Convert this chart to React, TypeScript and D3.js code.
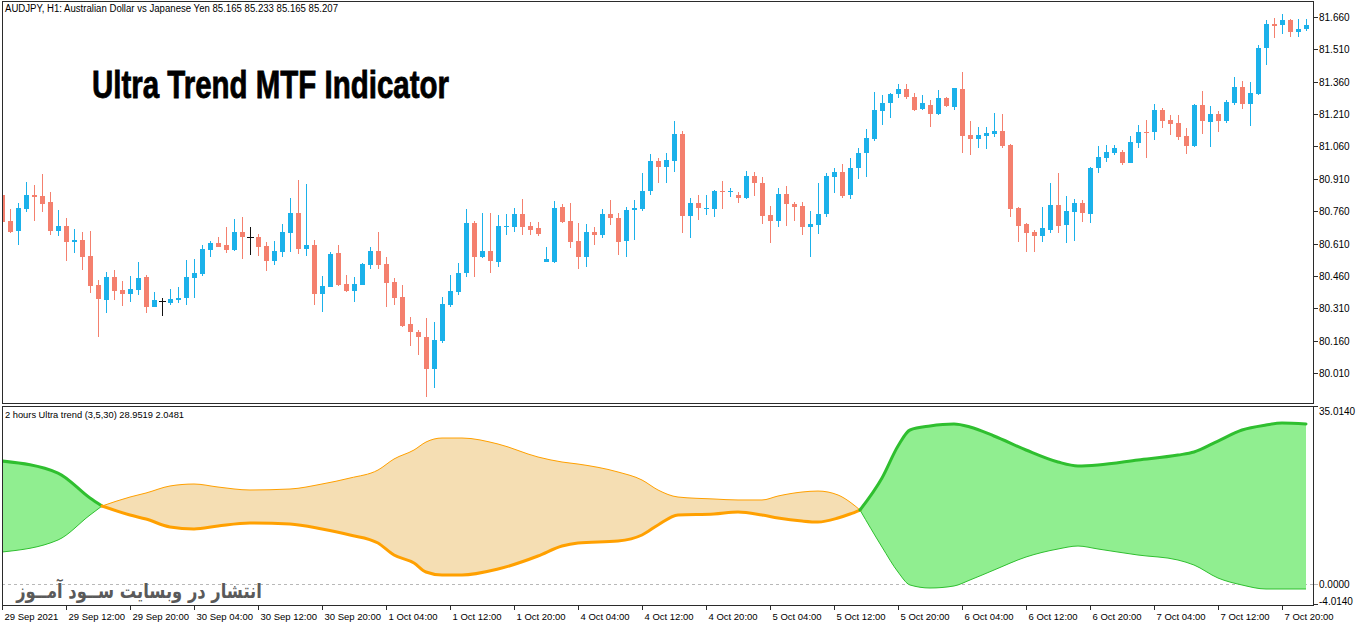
import React from "react";
import * as d3 from "d3";

// ---------- DATA ----------
const opens = [
  80.834, 80.714, 80.668, 80.769, 80.834, 80.830, 80.802, 80.668, 80.691, 80.617,
  80.626, 80.552, 80.418, 80.348, 80.455, 80.394, 80.376, 80.394, 80.455, 80.316,
  80.343, 80.334, 80.348, 80.357, 80.450, 80.468, 80.579, 80.612, 80.603, 80.579,
  80.663, 80.640, 80.640, 80.598, 80.529, 80.570, 80.658, 80.751, 80.584, 80.603,
  80.376, 80.408, 80.566, 80.422, 80.390, 80.418, 80.510, 80.575, 80.515, 80.431,
  80.362, 80.237, 80.200, 80.177, 80.029, 80.158, 80.325, 80.385, 80.473, 80.704,
  80.547, 80.575, 80.524, 80.686, 80.686, 80.746, 80.691, 80.681, 80.524, 80.524,
  80.779, 80.714, 80.621, 80.547, 80.663, 80.649, 80.746, 80.728, 80.621, 80.765,
  80.769, 80.853, 80.992, 80.964, 80.992, 81.117, 80.737, 80.797, 80.769, 80.769,
  80.853, 80.848, 80.834, 80.820, 80.922, 80.890, 80.742, 80.714, 80.839, 80.793,
  80.783, 80.686, 80.695, 80.746, 80.918, 80.941, 80.834, 80.959, 81.029, 81.093,
  81.223, 81.260, 81.302, 81.325, 81.288, 81.232, 81.251, 81.209, 81.283, 81.242,
  81.325, 81.112, 81.093, 81.107, 81.117, 81.131, 81.066, 80.774, 80.700, 80.663,
  80.644, 80.672, 80.788, 80.695, 80.756, 80.797, 80.746, 80.959, 81.006, 81.029,
  81.033, 80.982, 81.075, 81.126, 81.126, 81.228, 81.181, 81.168, 81.107, 81.061,
  81.251, 81.172, 81.209, 81.177, 81.260, 81.334, 81.256, 81.302, 81.515, 81.626,
  81.621, 81.644, 81.589, 81.603,
];
const highs = [
  80.843, 80.769, 80.797, 80.894, 80.881, 80.931, 80.848, 80.765, 80.728, 80.677,
  80.663, 80.668, 80.441, 80.478, 80.487, 80.436, 80.459, 80.524, 80.464, 80.385,
  80.357, 80.399, 80.408, 80.533, 80.538, 80.603, 80.621, 80.640, 80.686, 80.723,
  80.732, 80.686, 80.654, 80.617, 80.621, 80.700, 80.820, 80.904, 80.885, 80.626,
  80.459, 80.570, 80.603, 80.464, 80.455, 80.519, 80.593, 80.663, 80.547, 80.450,
  80.418, 80.269, 80.209, 80.265, 80.246, 80.362, 80.464, 80.519, 80.769, 80.714,
  80.751, 80.751, 80.742, 80.746, 80.774, 80.816, 80.709, 80.709, 80.593, 80.806,
  80.793, 80.797, 80.705, 80.700, 80.686, 80.769, 80.811, 80.751, 80.779, 80.811,
  80.936, 81.024, 81.006, 81.029, 81.177, 81.131, 80.820, 80.834, 80.834, 80.857,
  80.899, 80.867, 80.848, 80.945, 80.941, 80.918, 80.783, 80.867, 80.876, 80.802,
  80.802, 80.760, 80.890, 80.936, 80.959, 80.978, 81.006, 81.052, 81.140, 81.311,
  81.297, 81.306, 81.348, 81.348, 81.306, 81.297, 81.274, 81.320, 81.288, 81.330,
  81.404, 81.177, 81.149, 81.149, 81.214, 81.209, 81.070, 80.779, 80.705, 80.672,
  80.779, 80.890, 80.936, 80.830, 80.816, 80.811, 80.964, 81.061, 81.066, 81.066,
  81.043, 81.107, 81.158, 81.181, 81.256, 81.237, 81.205, 81.205, 81.144, 81.256,
  81.316, 81.246, 81.223, 81.274, 81.381, 81.362, 81.357, 81.529, 81.644, 81.654,
  81.672, 81.649, 81.649, 81.649,
];
const lows = [
  80.672, 80.658, 80.603, 80.756, 80.714, 80.756, 80.649, 80.644, 80.529, 80.566,
  80.487, 80.380, 80.177, 80.288, 80.348, 80.320, 80.339, 80.371, 80.288, 80.316,
  80.274, 80.325, 80.334, 80.325, 80.357, 80.459, 80.547, 80.593, 80.566, 80.575,
  80.538, 80.556, 80.552, 80.482, 80.510, 80.547, 80.570, 80.561, 80.552, 80.325,
  80.292, 80.408, 80.413, 80.385, 80.339, 80.418, 80.492, 80.492, 80.316, 80.325,
  80.223, 80.135, 80.093, 79.899, 79.941, 80.149, 80.316, 80.371, 80.455, 80.455,
  80.543, 80.473, 80.501, 80.649, 80.663, 80.649, 80.649, 80.644, 80.524, 80.519,
  80.705, 80.589, 80.492, 80.501, 80.603, 80.635, 80.695, 80.556, 80.547, 80.626,
  80.760, 80.834, 80.890, 80.890, 80.941, 80.658, 80.635, 80.719, 80.742, 80.732,
  80.769, 80.825, 80.797, 80.816, 80.830, 80.700, 80.612, 80.686, 80.691, 80.714,
  80.649, 80.547, 80.654, 80.732, 80.843, 80.820, 80.816, 80.908, 80.917, 81.084,
  81.158, 81.191, 81.283, 81.279, 81.223, 81.228, 81.149, 81.205, 81.242, 81.228,
  81.029, 81.019, 81.052, 81.047, 81.103, 81.052, 80.732, 80.617, 80.570, 80.570,
  80.617, 80.658, 80.658, 80.612, 80.621, 80.709, 80.705, 80.936, 80.987, 81.019,
  80.973, 80.982, 81.052, 81.006, 81.089, 81.144, 81.112, 81.089, 81.024, 81.056,
  81.117, 81.056, 81.126, 81.168, 81.251, 81.232, 81.154, 81.297, 81.436, 81.561,
  81.580, 81.566, 81.566, 81.593,
];
const closes = [
  80.709, 80.663, 80.774, 80.834, 80.825, 80.793, 80.668, 80.691, 80.617, 80.626,
  80.547, 80.413, 80.353, 80.455, 80.390, 80.376, 80.399, 80.450, 80.316, 80.348,
  80.343, 80.353, 80.357, 80.455, 80.473, 80.584, 80.612, 80.593, 80.579, 80.663,
  80.640, 80.640, 80.593, 80.529, 80.575, 80.663, 80.751, 80.584, 80.603, 80.376,
  80.413, 80.561, 80.418, 80.390, 80.422, 80.515, 80.575, 80.510, 80.427, 80.357,
  80.228, 80.200, 80.177, 80.029, 80.163, 80.330, 80.390, 80.473, 80.704, 80.547,
  80.575, 80.529, 80.691, 80.691, 80.746, 80.686, 80.672, 80.654, 80.538, 80.774,
  80.709, 80.617, 80.547, 80.663, 80.649, 80.746, 80.728, 80.617, 80.765, 80.774,
  80.853, 80.992, 80.964, 80.996, 81.117, 80.737, 80.797, 80.774, 80.774, 80.853,
  80.848, 80.853, 80.820, 80.922, 80.890, 80.737, 80.714, 80.839, 80.793, 80.779,
  80.686, 80.700, 80.746, 80.922, 80.941, 80.830, 80.959, 81.029, 81.098, 81.228,
  81.260, 81.302, 81.325, 81.288, 81.228, 81.260, 81.209, 81.283, 81.246, 81.330,
  81.107, 81.093, 81.112, 81.121, 81.131, 81.061, 80.769, 80.691, 80.658, 80.644,
  80.681, 80.788, 80.691, 80.760, 80.797, 80.751, 80.959, 81.010, 81.033, 81.052,
  80.982, 81.080, 81.126, 81.121, 81.228, 81.177, 81.163, 81.103, 81.061, 81.251,
  81.177, 81.209, 81.177, 81.265, 81.334, 81.256, 81.306, 81.515, 81.626, 81.617,
  81.644, 81.589, 81.603, 81.621,
];

const timeLabels = [
  "29 Sep 2021", "29 Sep 12:00", "29 Sep 20:00", "30 Sep 04:00", "30 Sep 12:00",
  "30 Sep 20:00", "1 Oct 04:00", "1 Oct 12:00", "1 Oct 20:00", "4 Oct 04:00",
  "4 Oct 12:00", "4 Oct 20:00", "5 Oct 04:00", "5 Oct 12:00", "5 Oct 20:00",
  "6 Oct 04:00", "6 Oct 12:00", "6 Oct 20:00", "7 Oct 04:00", "7 Oct 12:00",
  "7 Oct 20:00",
];
const timeLabelEvery = 8;

const priceTicks = [81.66, 81.51, 81.36, 81.21, 81.06, 80.91, 80.76, 80.61, 80.46, 80.31, 80.16, 80.01];
const subTicks = [35.014, 0, -4.014];

// Ultra trend MTF (2h) indicator: bar position, trend line (thick), band line (thin)
const utBars = [0, 7, 11, 12.5, 16, 18, 21, 24, 27, 31, 36, 40, 43.5, 47, 49, 51.5, 53, 55, 57.5, 62, 67, 70, 72, 77,
  80, 82, 84.5, 89, 92, 95, 97, 100, 102, 104.5, 106, 107.25, 110, 112, 113.5, 116, 119, 121, 124, 128, 132, 134.5,
  137, 142, 147, 149, 152, 155, 158, 160, 163];
const utTrend = [24.90, 22.47, 17.42, 15.80, 13.98, 13.17, 11.56, 11.15, 11.76, 12.36, 12.16, 11.15, 9.94, 8.32,
  5.89, 4.28, 2.46, 1.85, 1.85, 3.06, 5.69, 7.71, 8.32, 8.72, 9.94, 11.96, 13.98, 14.18, 14.59, 13.98, 13.38, 12.77,
  12.57, 13.38, 14.18, 14.99, 21.46, 27.93, 31.17, 31.98, 32.38, 31.78, 29.96, 27.13, 24.70, 23.89, 24.09, 25.10,
  26.11, 26.72, 28.94, 31.17, 32.18, 32.58, 32.38];
const utBand = [6.50, 8.93, 13.98, 15.80, 17.62, 18.43, 19.85, 20.25, 19.64, 19.04, 19.24, 20.25, 21.46, 23.08,
  25.31, 27.13, 28.74, 29.55, 29.55, 28.34, 25.71, 24.70, 24.29, 22.68, 21.06, 19.04, 17.62, 17.22, 17.02, 17.02,
  17.82, 18.63, 18.83, 18.03, 16.61, 14.99, 7.51, 2.46, -0.17, -0.78, -0.37, 0.84, 2.86, 5.49, 7.11, 7.71, 7.11,
  5.89, 4.88, 3.87, 1.24, -0.17, -0.98, -0.98, -0.98];

const headerText = "AUDJPY, H1:  Australian Dollar vs Japanese Yen  85.165 85.233 85.165 85.207";
const subLabel = "2 hours Ultra trend (3,5,30) 28.9519 2.0481";
const titleText = "Ultra Trend MTF Indicator";
const watermark = "انتشار در وبسایت  ســود آمــوز";

// ---------- STYLE ----------
const BULL = "#1bb1ea";
const BEAR = "#f4806e";
const DOJI = "#111111";
const AXIS = "#2b2b2b";
const FONT = "'Liberation Sans', Arial, sans-serif";

type Pt = { b: number; t: number; s: number };

export default function App() {
  const W = 1362, H = 628;
  const L = 2, R = 1313;
  const mTop = 2, mBot = 403, sTop = 406, sBot = 605;

  const x = d3.scaleLinear().domain([0, 163]).range([2, 1306]);
  const y = d3.scaleLinear().domain([79.872, 81.728]).range([mBot, mTop]);
  const ys = d3.scaleLinear().domain([-4.014, 35.014]).range([604, 411]);

  const bars = d3.range(opens.length).map((i) => ({ i, o: opens[i], h: highs[i], l: lows[i], c: closes[i] }));

  const pts: Pt[] = utBars.map((b, k) => ({ b, t: utTrend[k], s: utBand[k] }));
  const segs: { dir: number; pts: Pt[] }[] = [];
  let cur: { dir: number; pts: Pt[] } | null = null;
  let pending: Pt | null = null;
  for (const p of pts) {
    const d = p.t > p.s ? 1 : p.t < p.s ? -1 : 0;
    if (d === 0) {
      if (cur) cur.pts.push(p);
      pending = p;
      continue;
    }
    if (!cur || cur.dir !== d) {
      cur = { dir: d, pts: pending ? [pending] : [] };
      segs.push(cur);
    }
    cur.pts.push(p);
    pending = null;
  }

  const area = d3.area<Pt>().x((p) => x(p.b)).y0((p) => ys(p.s)).y1((p) => ys(p.t)).curve(d3.curveMonotoneX);
  const lineT = d3.line<Pt>().x((p) => x(p.b)).y((p) => ys(p.t)).curve(d3.curveMonotoneX);
  const lineS = d3.line<Pt>().x((p) => x(p.b)).y((p) => ys(p.s)).curve(d3.curveMonotoneX);

  const upFill = "#90ee90", upLine = "#2fbf2f";
  const dnFill = "#f5deb3", dnLine = "#ffa000";

  return (
    <div style={{ position: "fixed", left: 0, top: 0, width: W, height: H, background: "#fff" }}>
      <svg width={W} height={H} style={{ display: "block" }}>
        <defs>
          <clipPath id="mainClip">
            <rect x={L + 1} y={mTop + 1} width={R - L - 1} height={mBot - mTop - 1} />
          </clipPath>
          <clipPath id="subClip">
            <rect x={L + 1} y={sTop + 1} width={R - L - 1} height={sBot - sTop - 1} />
          </clipPath>
        </defs>
        <rect x={0} y={0} width={W} height={H} fill="#fff" />

        {/* main panel candles */}
        <g clipPath="url(#mainClip)" shapeRendering="crispEdges">
          {bars.map((d) => {
            const cx = Math.round(x(d.i));
            const col = d.c > d.o ? BULL : d.c < d.o ? BEAR : DOJI;
            const top = Math.round(y(Math.max(d.o, d.c)));
            const bot = Math.round(y(Math.min(d.o, d.c)));
            return (
              <g key={d.i}>
                <line x1={cx + 0.5} x2={cx + 0.5} y1={y(d.h)} y2={y(d.l)} stroke={col} strokeWidth={1} />
                {d.c === d.o ? (
                  <line x1={cx - 3} x2={cx + 4} y1={top + 0.5} y2={top + 0.5} stroke={col} strokeWidth={1} />
                ) : (
                  <rect x={cx - 2} y={top} width={5} height={Math.max(1, bot - top)} fill={col} />
                )}
              </g>
            );
          })}
        </g>

        {/* header + title */}
        <text x={5} y={12} fontFamily={FONT} fontSize={10} fill="#000" textLength={333} lengthAdjust="spacingAndGlyphs">
          {headerText}
        </text>
        <text x={92} y={98} fontFamily="'Liberation Sans Narrow','Liberation Sans',Arial,sans-serif" fontWeight="bold"
          fontSize={38} fill="#000" stroke="#000" strokeWidth={0.8} textLength={357} lengthAdjust="spacingAndGlyphs">
          {titleText}
        </text>

        {/* sub panel indicator */}
        <g clipPath="url(#subClip)">
          <line x1={L} x2={R} y1={Math.round(ys(0)) + 0.5} y2={Math.round(ys(0)) + 0.5} stroke="#b8b8b8"
            strokeDasharray="3,3" strokeWidth={1} />
          {segs.map((s, k) => (
            <path key={"a" + k} d={area(s.pts) || ""} fill={s.dir > 0 ? upFill : dnFill} stroke="none" />
          ))}
          {segs.map((s, k) => (
            <path key={"s" + k} d={lineS(s.pts) || ""} fill="none" stroke={s.dir > 0 ? upLine : dnLine} strokeWidth={1} />
          ))}
          {segs.map((s, k) => (
            <path key={"t" + k} d={lineT(s.pts) || ""} fill="none" stroke={s.dir > 0 ? upLine : dnLine}
              strokeWidth={3} strokeLinejoin="round" strokeLinecap="round" />
          ))}
        </g>
        <text x={5} y={418} fontFamily={FONT} fontSize={9.5} fill="#000" textLength={179} lengthAdjust="spacingAndGlyphs">
          {subLabel}
        </text>
        <text transform="translate(139,598) scale(0.96,1.2)" x={0} y={0} textAnchor="middle"
          fontFamily="'DejaVu Sans', 'Noto Sans', sans-serif" fontWeight="bold" fontSize={17} fill="#5a5a5a">
          {watermark}
        </text>

        {/* panel frames */}
        <g shapeRendering="crispEdges" fill="none" stroke={AXIS} strokeWidth={1}>
          <rect x={L + 0.5} y={mTop - 0.5} width={R - L} height={mBot - mTop + 1} />
          <rect x={L + 0.5} y={sTop + 0.5} width={R - L} height={sBot - sTop} />
        </g>

        {/* price axis */}
        <g fontFamily={FONT} fontSize={10} fill="#000" shapeRendering="crispEdges">
          {priceTicks.map((p) => {
            const yy = Math.round(y(p)) + 0.5;
            return (
              <g key={p}>
                <line x1={R + 0.5} x2={R + 5} y1={yy} y2={yy} stroke={AXIS} />
                <text x={R + 6} y={yy + 3.5}>{p.toFixed(3)}</text>
              </g>
            );
          })}
        </g>

        {/* sub axis */}
        <g fontFamily={FONT} fontSize={10} fill="#000" shapeRendering="crispEdges">
          {subTicks.map((v, k) => {
            const yy = k === 0 ? sTop + 0.5 : k === 2 ? sBot - 0.5 : Math.round(ys(v)) + 0.5;
            const ty = k === 0 ? 415 : k === 2 ? 605 : yy + 3.5;
            return (
              <g key={v}>
                <line x1={R + 0.5} x2={R + 5} y1={yy} y2={yy} stroke={k === 1 ? "#b8b8b8" : AXIS} />
                <text x={R + 6} y={ty}>{v.toFixed(4)}</text>
              </g>
            );
          })}
        </g>

        {/* time axis */}
        <g fontFamily={FONT} fontSize={9.5} fill="#000" shapeRendering="crispEdges">
          {timeLabels.map((t, k) => {
            const xx = Math.round(x(k * timeLabelEvery)) + 0.5;
            return (
              <g key={t}>
                <line x1={xx} x2={xx} y1={sBot} y2={sBot + 5} stroke={AXIS} />
                <text x={xx + 2} y={620}>{t}</text>
              </g>
            );
          })}
        </g>
      </svg>
    </div>
  );
}
